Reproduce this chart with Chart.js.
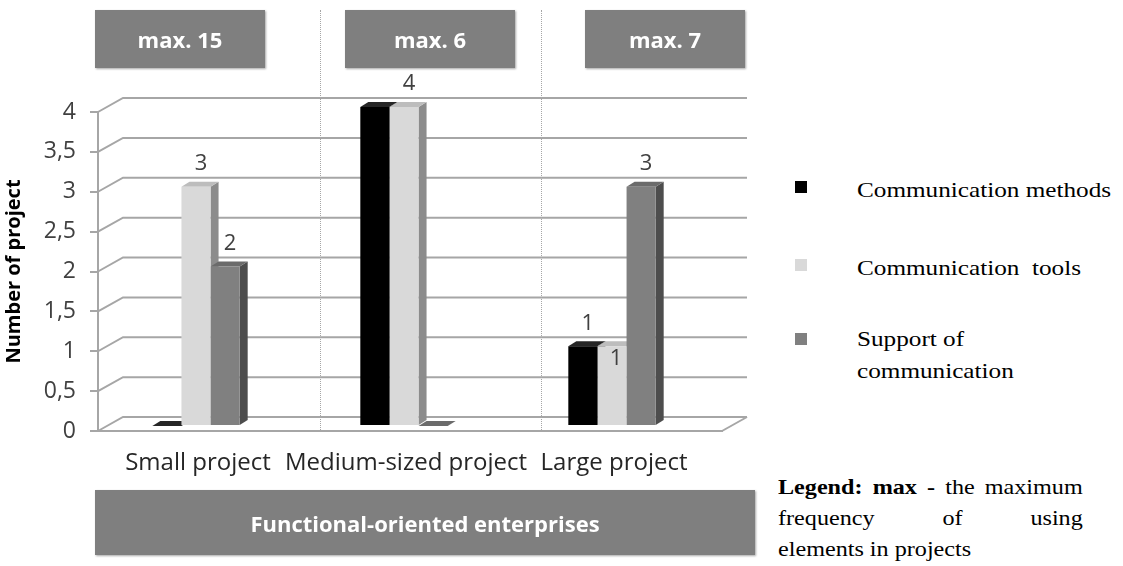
<!DOCTYPE html>
<html>
<head>
<meta charset="utf-8">
<script src="https://cdn.jsdelivr.net/npm/chart.js@4.4.1/dist/chart.umd.min.js"></script>
<style>
  body { margin: 0; background: #fff; }
  #page { position: relative; width: 1123px; height: 566px; overflow: hidden; font-family: "Open Sans", sans-serif; }
  #grafica { position: absolute; left: 0; top: 0; z-index: 2; }
  .sep { position: absolute; top: 10px; height: 422px; border-left: 1px dotted #a6a6a6; z-index: 1; }
  .caja { position: absolute; background: #7f7f7f; color: #fff; font-weight: bold; display: flex;
          align-items: center; justify-content: center; box-shadow: 1px 1px 2px rgba(0,0,0,0.35); z-index: 3; }
  .leyenda { position: absolute; left: 795px; font-family: "Liberation Serif", serif; font-size: 21px; color: #000; }
  .leyenda .cuadro { position: absolute; width: 12px; height: 12px; left: 0; }
  .leyenda .texto { position: absolute; left: 62px; transform: scaleX(1.2); transform-origin: left top; line-height: 32px; white-space: nowrap; }
  #nota { position: absolute; left: 778px; top: 472px; font-family: "Liberation Serif", serif; font-size: 21px;
          transform: scaleX(1.15); transform-origin: left top; width: 265px; line-height: 31px; }
  #nota div { text-align: justify; text-align-last: justify; }
  #nota div.ultima { text-align-last: left; }
</style>
</head>
<body>
<div id="page">
  <div class="sep" style="left:320px"></div>
  <div class="sep" style="left:541px"></div>
  <canvas id="grafica" width="1123" height="566"></canvas>
  <div id="nota">
    <div><b>Legend: max -</b> the maximum</div>
    <div>frequency of using</div>
    <div class="ultima">elements in projects</div>
  </div>
</div>
<script>
const categorias = ["Small project", "Medium-sized project", "Large project"];
const maximos = ["max. 15", "max. 6", "max. 7"];
const metodos = [0, 4, 1];
const herramientas = [3, 4, 1];
const soporte = [2, 0, 3];
const marcasY = [0, 0.5, 1, 1.5, 2, 2.5, 3, 3.5, 4];
const grupoInferior = "Functional-oriented enterprises";

const fondo = { dx: 25, dy: 14 };
const cara = { dx: 8, dy: 5 };
const corrimiento = { x: -6, y: -5 };

const series = [
  { label: "Communication methods", data: metodos, backgroundColor: "#000000", arriba: "#262626", lado: "#111111" },
  { label: "Communication tools", data: herramientas, backgroundColor: "#d9d9d9", arriba: "#bdbdbd", lado: "#8c8c8c" },
  { label: "Support of communication", data: soporte, backgroundColor: "#808080", arriba: "#6b6b6b", lado: "#4d4d4d" }
];

// cajas de arriba y de abajo
const $page = document.getElementById("page");
const cajas = [[95, 10, 170, 58], [345, 10, 170, 58], [585, 10, 160, 58]];
maximos.forEach((txt, i) => {
  const d = document.createElement("div");
  d.className = "caja";
  d.style.cssText = `left:${cajas[i][0]}px;top:${cajas[i][1]}px;width:${cajas[i][2]}px;height:${cajas[i][3]}px;font-size:22px`;
  d.textContent = txt;
  $page.appendChild(d);
});
const abajo = document.createElement("div");
abajo.className = "caja";
abajo.style.cssText = "left:95px;top:490px;width:660px;height:65px;font-size:22px";
abajo.textContent = grupoInferior;
$page.appendChild(abajo);

// leyenda a la derecha
const posLeyenda = [[181, 174], [259, 252], [333, 323]];
series.forEach((s, i) => {
  const item = document.createElement("div");
  item.className = "leyenda";
  item.style.top = "0px";
  const texto = s.label === "Support of communication" ? "Support of<br>communication" : s.label.replace(" tools", "&nbsp; tools");
  item.innerHTML = `<div class="cuadro" style="top:${posLeyenda[i][0]}px;background:${s.backgroundColor}"></div>` +
    `<div class="texto" style="top:${posLeyenda[i][1]}px">${texto}</div>`;
  $page.appendChild(item);
});

const efecto3d = {
  id: "efecto3d",
  beforeDatasetsDraw(chart) {
    const { ctx, chartArea: a, scales: { y } } = chart;
    ctx.save();
    ctx.strokeStyle = "#a6a6a6";
    ctx.lineWidth = 2;
    y.ticks.forEach(t => {
      const py = y.getPixelForValue(t.value);
      ctx.beginPath();
      ctx.moveTo(a.left, py);
      ctx.lineTo(a.left + fondo.dx, py - fondo.dy);
      ctx.lineTo(a.right + fondo.dx, py - fondo.dy);
      ctx.stroke();
    });
    const p0 = y.getPixelForValue(0);
    ctx.beginPath();
    ctx.moveTo(a.right, p0);
    ctx.lineTo(a.right + fondo.dx, p0 - fondo.dy);
    ctx.stroke();
    ctx.restore();

    ctx.save();
    ctx.translate(corrimiento.x, corrimiento.y);
    // caras de arriba y de costado, detras de los frentes
    chart.data.datasets.forEach((ds, di) => {
      chart.getDatasetMeta(di).data.forEach(bar => {
        const { x, y: top, base, width } = bar.getProps(["x", "y", "base", "width"], true);
        const l = x - width / 2, r = x + width / 2;
        ctx.fillStyle = ds.lado;
        ctx.beginPath();
        ctx.moveTo(r, top);
        ctx.lineTo(r + cara.dx, top - cara.dy);
        ctx.lineTo(r + cara.dx, base - cara.dy);
        ctx.lineTo(r, base);
        ctx.closePath();
        ctx.fill();
        ctx.fillStyle = ds.arriba;
        ctx.beginPath();
        ctx.moveTo(l, top);
        ctx.lineTo(l + cara.dx, top - cara.dy);
        ctx.lineTo(r + cara.dx, top - cara.dy);
        ctx.lineTo(r, top);
        ctx.closePath();
        ctx.fill();
      });
    });
  },
  afterDatasetsDraw(chart) {
    const { ctx } = chart;
    ctx.font = "22px 'Open Sans'";
    ctx.fillStyle = "#404040";
    ctx.textAlign = "center";
    ctx.textBaseline = "middle";
    chart.data.datasets.forEach((ds, di) => {
      chart.getDatasetMeta(di).data.forEach((bar, i) => {
        const v = ds.data[i];
        if (!v) return;
        if (di === 0 && i === 1) return; // tapada por la etiqueta vecina
        const { x, y: top } = bar.getProps(["x", "y"], true);
        if (di === 1 && i === 2) {
          ctx.fillText(v, x + 4, top + 12);
        } else {
          ctx.fillText(v, x + 5, top - cara.dy - 18);
        }
      });
    });
    ctx.restore();
  }
};

new Chart(document.getElementById("grafica"), {
  type: "bar",
  data: {
    labels: categorias,
    datasets: series.map(s => ({
      label: s.label, data: s.data, backgroundColor: s.backgroundColor,
      arriba: s.arriba, lado: s.lado, borderWidth: 0, clip: false
    }))
  },
  options: {
    responsive: false,
    animation: false,
    events: [],
    layout: { padding: { left: 0, top: 112, right: 401, bottom: 0 } },
    plugins: { legend: { display: false }, tooltip: { enabled: false } },
    datasets: { bar: { categoryPercentage: 0.42, barPercentage: 1 } },
    scales: {
      x: {
        grid: { display: false },
        border: { display: true, color: "#a6a6a6", width: 2 },
        ticks: { font: { family: "Open Sans", size: 24 }, color: "#262626", padding: 10, labelOffset: -4, maxRotation: 0, autoSkip: false },
        afterFit: s => { s.height = 135; }
      },
      y: {
        min: 0, max: 4,
        afterBuildTicks: s => { s.ticks = marcasY.map(v => ({ value: v })); },
        grid: { drawOnChartArea: false, drawTicks: true, tickLength: 8, color: "#a6a6a6", lineWidth: 2 },
        border: { display: true, color: "#a6a6a6", width: 2 },
        ticks: { font: { family: "Open Sans", size: 23 }, color: "#404040", padding: 14,
                 callback: v => String(v).replace(".", ",") },
        title: { display: true, text: "Number of project", color: "#000", font: { family: "Open Sans", size: 20, weight: "bold" }, padding: { top: 2, bottom: 0 } },
        afterFit: s => { s.width = 98; }
      }
    }
  },
  plugins: [efecto3d]
});
</script>
</body>
</html>
